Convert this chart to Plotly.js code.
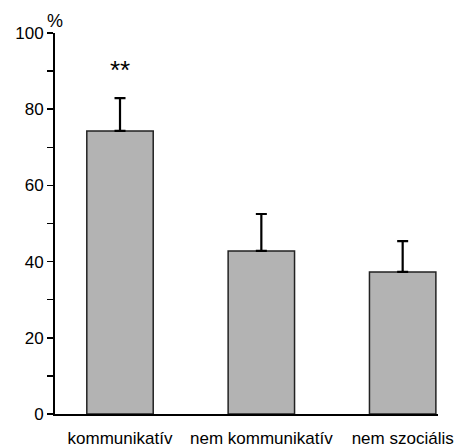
<!DOCTYPE html>
<html><head><meta charset="utf-8">
<script src="https://cdn.plot.ly/plotly-3.0.1.min.js"></script>
<style>html,body{margin:0;padding:0;background:#fff}#c{width:458px;height:447px}</style>
</head><body><div id="c"></div>
<script>
const categories = ["kommunikatív", "nem kommunikatív", "nem szociális"];
const values = [74.3, 42.8, 37.3];
const errorsUp = [8.6, 9.7, 8.1];
const errorsDown = [0, 0, 0];
const significance = ["**", "", ""];
const yTicks = [0, 20, 40, 60, 80, 100];

const font = "Liberation Sans, Arial, sans-serif";
const trace = {
  type: "bar",
  x: [0, 1, 2],
  y: values,
  width: 0.47,
  marker: {color: "#b3b3b3", line: {color: "#222", width: 1.5}},
  error_y: {type: "data", symmetric: false, array: errorsUp, arrayminus: errorsDown,
            color: "#000", thickness: 2.2, width: 5.5},
  hoverinfo: "skip"
};
const annotations = [];
significance.forEach((s, i) => {
  if (s) annotations.push({x: i, y: values[i] + errorsUp[i] + 7.5, xref: "x", yref: "y", text: s,
    showarrow: false, font: {family: font, size: 26, color: "#000"}});
});
annotations.push({x: 0, y: 1, xref: "paper", yref: "paper", xanchor: "center", yanchor: "bottom",
  xshift: 0, yshift: 0, text: "%", showarrow: false, font: {family: font, size: 18, color: "#000"}});

const layout = {
  width: 458, height: 447,
  margin: {l: 55, r: 20, t: 33, b: 33},
  paper_bgcolor: "#fff", plot_bgcolor: "#fff",
  showlegend: false,
  font: {family: font, size: 17, color: "#000"},
  xaxis: {range: [-0.46, 2.25], tickvals: [0, 1, 2], ticktext: categories,
          showgrid: false, zeroline: false, showline: true, linecolor: "#000", linewidth: 2,
          ticks: "", ticklabelstandoff: 8, tickfont: {family: font, size: 17, color: "#000"}},
  yaxis: {range: [0, 100], tickvals: yTicks, showgrid: false, zeroline: false,
          showline: true, linecolor: "#000", linewidth: 2, ticks: "outside", ticklen: 6,
          tickwidth: 1.5, tickcolor: "#000", tickfont: {family: font, size: 17, color: "#000"},
          minor: {dtick: 10, ticks: "outside", ticklen: 6, tickwidth: 1.5, tickcolor: "#000"}},
  annotations: annotations
};
Plotly.newPlot("c", [trace], layout, {staticPlot: true, displayModeBar: false});
</script></body></html>
